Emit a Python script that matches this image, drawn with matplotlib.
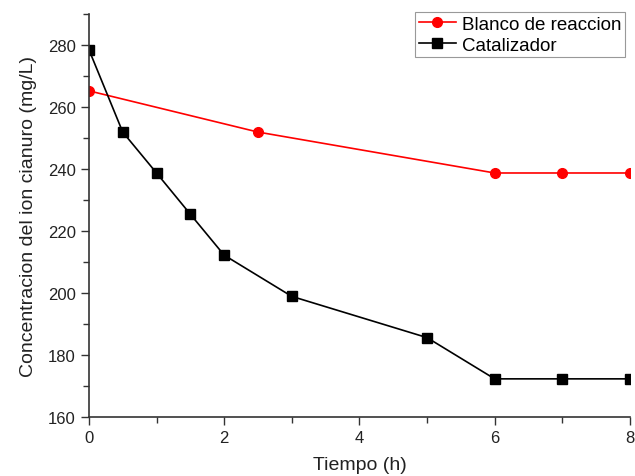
#import library
import matplotlib.pyplot as plt
from matplotlib.ticker import MultipleLocator

plt.rcParams['font.family'] = ['Liberation Sans', 'DejaVu Sans']

#define datasets
blanco_t = [0, 2.5, 6, 7, 8]
blanco_c = [265.2, 251.9, 238.7, 238.7, 238.7]

cat_t = [0, 0.5, 1, 1.5, 2, 3, 5, 6, 7, 8]
cat_c = [278.5, 251.9, 238.7, 225.4, 212.2, 198.9, 185.6, 172.3, 172.3, 172.3]

#define fig and plot size
fig = plt.figure(figsize=(6.35, 4.77), dpi=100)
ax = fig.add_axes([0.140, 0.1237, 0.852, 0.845])

#define series
ax.plot(blanco_t, blanco_c, color="red", marker="o", markersize=7,
        linewidth=1.2, label="Blanco de reaccion")
ax.plot(cat_t, cat_c, color="black", marker="s", markersize=6.5,
        linewidth=1.2, label="Catalizador")

#define axes limits and ticks
ax.set_xlim(0, 8)
ax.set_ylim(160, 290)
ax.xaxis.set_major_locator(MultipleLocator(2))
ax.xaxis.set_minor_locator(MultipleLocator(1))
ax.yaxis.set_major_locator(MultipleLocator(20))
ax.yaxis.set_minor_locator(MultipleLocator(10))
ax.tick_params(which="major", direction="out", length=6, width=1,
               labelsize=12, colors="#333333", labelcolor="#222222")
ax.tick_params(which="minor", direction="out", length=4, width=1, colors="#333333")

for side in ["top", "right"]:
    ax.spines[side].set_visible(False)
for side in ["left", "bottom"]:
    ax.spines[side].set_linewidth(1.2)
    ax.spines[side].set_color("#333333")

#define labels
ax.set_xlabel("Tiempo (h)", fontsize=14, color="#222222", labelpad=8)
ax.set_ylabel("Concentracion del ion cianuro (mg/L)", fontsize=14,
              color="#222222", labelpad=8)

#define legend
leg = fig.legend(loc="upper left", bbox_to_anchor=(0.6535, 0.973),
                 bbox_transform=fig.transFigure, fontsize=13.5,
                 fancybox=False, edgecolor="#999999", framealpha=1,
                 handlelength=2.0, handletextpad=0.3, borderpad=0.2,
                 borderaxespad=0, labelspacing=0.2)
leg.get_frame().set_linewidth(0.8)

fig.savefig("out.png", dpi=100)
